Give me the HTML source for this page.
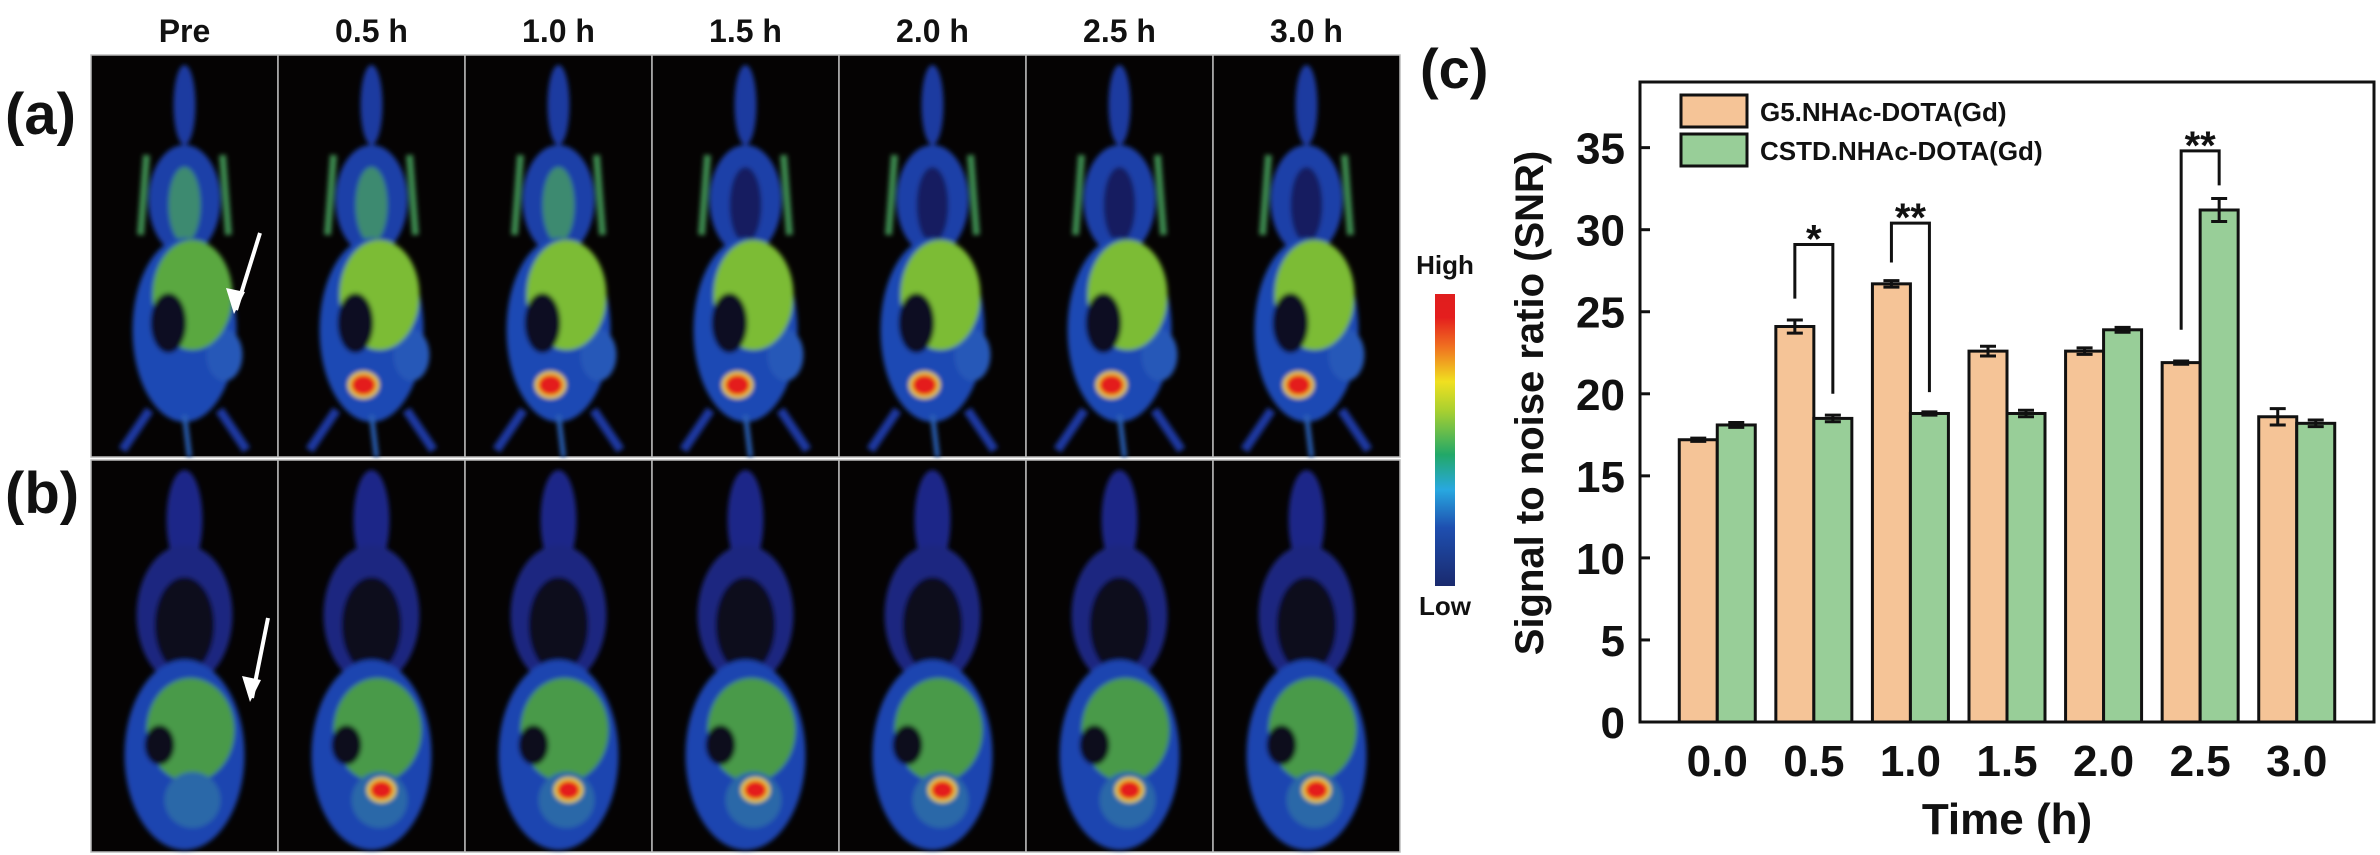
<!DOCTYPE html>
<html><head><meta charset="utf-8"><style>
html,body{margin:0;padding:0;background:#fff;}
svg{display:block;font-family:"Liberation Sans",Arial,sans-serif;}
</style></head><body>
<svg id="fig" width="2380" height="855" viewBox="0 0 2380 855" xmlns="http://www.w3.org/2000/svg">
<defs>
<filter id="blur" x="-20%" y="-20%" width="140%" height="140%"><feGaussianBlur stdDeviation="2.5"/></filter>
<linearGradient id="cbar" x1="0" y1="1" x2="0" y2="0">
<stop offset="0" stop-color="#1a2a6e"/><stop offset="0.2" stop-color="#1e4fb0"/><stop offset="0.33" stop-color="#28a8e0"/>
<stop offset="0.45" stop-color="#22a868"/><stop offset="0.6" stop-color="#a8d030"/><stop offset="0.7" stop-color="#f0e020"/>
<stop offset="0.82" stop-color="#f07020"/><stop offset="0.92" stop-color="#e41e1e"/><stop offset="1" stop-color="#e01e1e"/>
</linearGradient>
</defs>
<rect width="2380" height="855" fill="#fff"/>
<g id="panels"></g>
<g id="chart"></g>
</svg>
<script>
const NS="http://www.w3.org/2000/svg";
function mk(parent,tag,attrs,text){const e=document.createElementNS(NS,tag);for(const k in attrs)e.setAttribute(k,attrs[k]);if(text!==undefined)e.textContent=text;parent.appendChild(e);return e;}

/* ---------- MRI panels ---------- */
const timeHeaders=["Pre","0.5 h","1.0 h","1.5 h","2.0 h","2.5 h","3.0 h"];
const P=document.getElementById("panels");
const pLeft=91,pW=187;
const rows=[{top:55,bot:457},{top:460,bot:852}];
timeHeaders.forEach((h,i)=>{
  const t=mk(P,"text",{x:pLeft+i*pW+pW/2,y:42,"text-anchor":"middle","font-size":"32","font-weight":"bold",fill:"#111"},h);
  
  
});
rows.forEach((r,ri)=>{
  for(let i=0;i<7;i++){
    const x=pLeft+i*pW, cx=x+pW/2;
    const g=mk(P,"g",{});
    
    
    mk(g,"rect",{x:x,y:r.top,width:pW,height:r.bot-r.top,fill:"#050303",stroke:"#bbb","stroke-width":"1.5"});
    const m=mk(g,"g",{filter:"url(#blur)"});
    const T=r.top;
    if(ri===0){
      mk(m,"ellipse",{cx:cx,cy:T+50,rx:11,ry:40,fill:"#1e3aa0"});
      mk(m,"ellipse",{cx:cx,cy:T+145,rx:36,ry:55,fill:"#1f40a8"});
      mk(m,"ellipse",{cx:cx,cy:T+150,rx:16,ry:38,fill:i>=3?"#141e60":"#3c8a70"});
      mk(m,"line",{x1:cx-38,y1:T+100,x2:cx-44,y2:T+180,stroke:"#3c8a50","stroke-width":7});
      mk(m,"line",{x1:cx+38,y1:T+100,x2:cx+44,y2:T+180,stroke:"#3c8a50","stroke-width":7});
      mk(m,"ellipse",{cx:cx,cy:T+275,rx:52,ry:92,fill:"#1f48b4"});
      mk(m,"ellipse",{cx:cx+40,cy:T+300,rx:18,ry:26,fill:"#2658b8"});
      mk(m,"ellipse",{cx:cx+8,cy:T+240,rx:40,ry:55,fill:i===0?"#5aa840":"#7cbc34"});
      mk(m,"ellipse",{cx:cx-16,cy:T+268,rx:18,ry:30,fill:"#080820"});
      mk(m,"line",{x1:cx-35,y1:T+355,x2:cx-62,y2:T+395,stroke:"#1e38a0","stroke-width":9});
      mk(m,"line",{x1:cx+35,y1:T+355,x2:cx+62,y2:T+395,stroke:"#1e38a0","stroke-width":9});
      mk(m,"line",{x1:cx,y1:T+360,x2:cx+5,y2:r.bot,stroke:"#2a60b8","stroke-width":5});
      if(i>0) mk(m,"ellipse",{cx:cx-8,cy:T+330,rx:14,ry:12,fill:"#e41e1e",stroke:"#f0e020","stroke-width":3});
    } else {
      mk(m,"ellipse",{cx:cx,cy:T+60,rx:18,ry:50,fill:"#1a2888"});
      mk(m,"ellipse",{cx:cx,cy:T+155,rx:48,ry:70,fill:"#1a2880"});
      mk(m,"ellipse",{cx:cx,cy:T+165,rx:30,ry:48,fill:"#08081e"});
      mk(m,"ellipse",{cx:cx,cy:T+295,rx:60,ry:95,fill:"#1e44b0"});
      mk(m,"ellipse",{cx:cx+6,cy:T+270,rx:44,ry:52,fill:"#4a9a48"});
      mk(m,"ellipse",{cx:cx-25,cy:T+285,rx:15,ry:20,fill:"#08081e"});
      mk(m,"ellipse",{cx:cx+8,cy:T+340,rx:28,ry:28,fill:"#2a68a8"});
      if(i>0) mk(m,"ellipse",{cx:cx+10,cy:T+330,rx:13,ry:11,fill:"#e41e1e",stroke:"#f0e020","stroke-width":3});
    }
  }
});
const arrows=[[260,233,236,310],[268,618,252,698]];
arrows.forEach(a=>{
  const g=mk(P,"g",{});
  
  
  mk(g,"line",{x1:a[0],y1:a[1],x2:a[2],y2:a[3],stroke:"#fff","stroke-width":4});
  mk(g,"path",{d:`M${a[2]-2} ${a[3]+4} L${a[2]-10} ${a[3]-22} L${a[2]+9} ${a[3]-18} Z`,fill:"#fff"});
});
[["(a)",114],["(b)",493]].forEach(l=>{
  const t=mk(P,"text",{x:5,y:l[1]+20,"font-size":"58","font-weight":"bold",fill:"#111"},l[0]);
  
  
});
const cb=mk(P,"rect",{x:1435,y:294,width:20,height:292,fill:"url(#cbar)"});


const hi=mk(P,"text",{x:1445,y:274,"text-anchor":"middle","font-size":"26","font-weight":"bold",fill:"#111"},"High");


const lo=mk(P,"text",{x:1445,y:615,"text-anchor":"middle","font-size":"26","font-weight":"bold",fill:"#111"},"Low");



/* ---------- Chart ---------- */
const categories=["0.0","0.5","1.0","1.5","2.0","2.5","3.0"];
const g5Values=[17.2,24.1,26.7,22.6,22.6,21.9,18.6];
const g5Errors=[0.1,0.4,0.2,0.3,0.2,0.1,0.5];
const cstdValues=[18.1,18.5,18.8,18.8,23.9,31.2,18.2];
const cstdErrors=[0.15,0.2,0.1,0.2,0.15,0.7,0.2];
const yTicks=[0,5,10,15,20,25,30,35];
const seriesNames=["G5.NHAc-DOTA(Gd)","CSTD.NHAc-DOTA(Gd)"];
const sigIndex=[1,2,5];
const sigLabels=["*","**","**"];
const sigLeftStart=[25.8,28.0,23.9];
const sigTop=[29.1,30.4,34.8];
const sigRightEnd=[20.0,20.1,32.7];

const C=document.getElementById("chart");
const L=1640,R=2374,TOP=82,BOT=722,YMAX=39;
const y=v=>BOT-(v/YMAX)*(BOT-TOP);
const step=(R-L)/(categories.length+0.6);
const xc=i=>L+step*0.8+i*step;
const bw=38;

categories.forEach((c,i)=>{
  [[g5Values,g5Errors,"#F5C497",-1,"bar-g5"],[cstdValues,cstdErrors,"#98CE98",0,"bar-cstd"]].forEach(s=>{
    const v=s[0][i],e=s[1][i],x0=xc(i)+s[3]*bw;
    const b=mk(C,"rect",{x:x0,y:y(v),width:bw,height:BOT-y(v),fill:s[2],stroke:"#111","stroke-width":"3"});
    
    
    const ex=x0+bw/2;
    const eb=mk(C,"path",{d:`M${ex} ${y(v+e)}V${y(v-e)}M${ex-8} ${y(v+e)}H${ex+8}M${ex-8} ${y(v-e)}H${ex+8}`,stroke:"#111","stroke-width":"3",fill:"none"});
    
    
  });
  const t=mk(C,"text",{x:xc(i),y:776,"text-anchor":"middle","font-size":"44","font-weight":"bold",fill:"#111"},c);
  
  
});
sigIndex.forEach((i,k)=>{
  const xl=xc(i)-bw/2,xr=xc(i)+bw/2;
  const p=mk(C,"path",{d:`M${xl} ${y(sigLeftStart[k])}V${y(sigTop[k])}H${xr}V${y(sigRightEnd[k])}`,stroke:"#111","stroke-width":"3",fill:"none"});
  
  
  const t=mk(C,"text",{x:(xl+xr)/2,y:y(sigTop[k])+8,"text-anchor":"middle","font-size":"40","font-weight":"bold",fill:"#111"},sigLabels[k]);
  
  
});
const frame=mk(C,"rect",{x:L,y:TOP,width:R-L,height:BOT-TOP,fill:"none",stroke:"#111","stroke-width":"3"});


yTicks.forEach(v=>{
  const tk=mk(C,"line",{x1:L,x2:L+10,y1:y(v),y2:y(v),stroke:"#111","stroke-width":"3"});
  
  
  const t=mk(C,"text",{x:1625,y:y(v)+16,"text-anchor":"end","font-size":"44","font-weight":"bold",fill:"#111"},String(v));
  
  
});
const yt=mk(C,"text",{x:0,y:0,transform:"translate(1543,403) rotate(-90)","text-anchor":"middle","font-size":"40","font-weight":"bold",fill:"#111"},"Signal to noise ratio (SNR)");


const xt=mk(C,"text",{x:2007,y:834,"text-anchor":"middle","font-size":"44","font-weight":"bold",fill:"#111"},"Time (h)");


const cl=mk(C,"text",{x:1420,y:88,"font-size":"56","font-weight":"bold",fill:"#111"},"(c)");


[["#F5C497",95],["#98CE98",134]].forEach((s,k)=>{
  const g=mk(C,"g",{});
  
  
  mk(g,"rect",{x:1681,y:s[1],width:66,height:32,fill:s[0],stroke:"#111","stroke-width":"3"});
  mk(g,"text",{x:1760,y:s[1]+26,"font-size":"26","font-weight":"bold",fill:"#111"},seriesNames[k]);
});
</script>
</body></html>
